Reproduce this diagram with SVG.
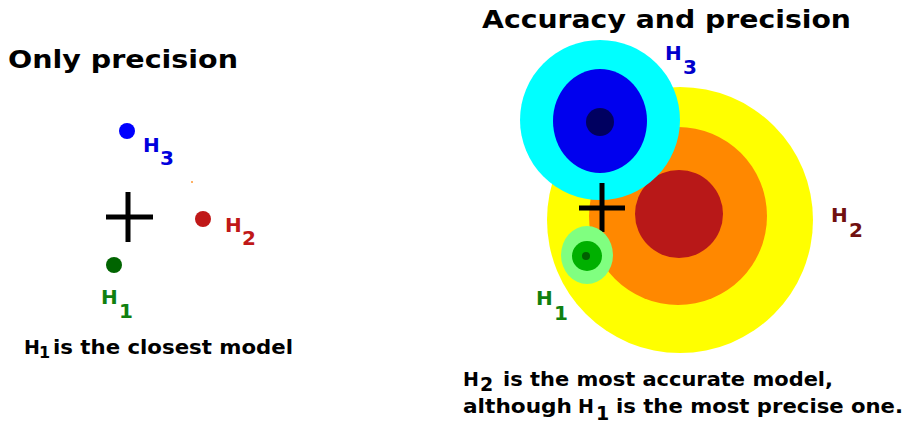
<svg xmlns="http://www.w3.org/2000/svg" width="907" height="423" viewBox="0 0 907 423">
<style>
.t{font-family:"DejaVu Sans","Liberation Sans",sans-serif;font-weight:bold;font-size:25px;fill:#000}
.l{font-family:"DejaVu Sans","Liberation Sans",sans-serif;font-weight:bold;font-size:20px}
.c{font-family:"DejaVu Sans","Liberation Sans",sans-serif;font-weight:bold;font-size:19px;fill:#000}
.s{font-family:"DejaVu Sans","Liberation Sans",sans-serif;font-weight:bold;font-size:16px;fill:#000}
.x{stroke:#000;stroke-width:5;fill:none}
</style>
<rect width="907" height="423" fill="#fff"/>
<g id="left-panel">
<text class="t" x="8" y="68" textLength="230" lengthAdjust="spacingAndGlyphs">Only precision</text>
<g id="left-target"><path class="x" d="M106 217H153M128 192V242"/></g>
<g id="left-h3"><circle cx="127" cy="131" r="8" fill="#0000ff"/><text class="l" fill="#0000dd" x="143" y="152">H<tspan x="160" y="165">3</tspan></text></g>
<g id="left-h2"><circle cx="203" cy="219" r="8" fill="#c01818"/><text class="l" fill="#c01818" x="225" y="232">H<tspan x="242" y="245">2</tspan></text></g>
<g id="left-h1"><circle cx="114" cy="265" r="8" fill="#006400"/><text class="l" fill="#108010" x="101" y="304">H<tspan x="119" y="318">1</tspan></text></g>
<circle cx="192" cy="182" r="1" fill="#ff9933"/>
<g id="left-caption">
<text class="c" x="24" y="354">H</text>
<text class="s" x="39" y="358">1</text>
<text class="c" x="53" y="354" textLength="240" lengthAdjust="spacingAndGlyphs">is the closest model</text>
</g>
</g>
<g id="right-panel">
<text class="t" x="482" y="28" textLength="369" lengthAdjust="spacingAndGlyphs">Accuracy and precision</text>
<g id="r-h2">
<circle cx="680" cy="220" r="133" fill="#ffff00"/>
<circle cx="678" cy="216" r="89" fill="#ff8800"/>
<circle cx="679" cy="214" r="44" fill="#b81818"/>
<text class="l" fill="#701010" x="831" y="222">H<tspan x="849" y="237">2</tspan></text>
</g>
<g id="r-h3">
<circle cx="600" cy="120" r="80" fill="#00ffff"/>
<ellipse cx="600" cy="121" rx="47" ry="52" fill="#0000ee"/>
<circle cx="600" cy="122" r="14" fill="#000060"/>
<text class="l" fill="#0000cc" x="665" y="60">H<tspan x="683" y="74">3</tspan></text>
</g>
<g id="r-target"><path class="x" d="M579 208H625M602 183V232"/></g>
<g id="r-h1">
<ellipse cx="587" cy="255" rx="26" ry="29" fill="#80ff80"/>
<ellipse cx="587" cy="256" rx="15" ry="15" fill="#00b000"/>
<circle cx="586" cy="256" r="4" fill="#006000"/>
<text class="l" fill="#108010" x="536" y="305">H<tspan x="554" y="320">1</tspan></text>
</g>
<g id="right-caption">
<text class="c" x="463" y="386">H</text>
<text class="c" x="480" y="391" font-size="17">2</text>
<text class="c" x="503" y="386" textLength="330" lengthAdjust="spacingAndGlyphs">is the most accurate model,</text>
<text class="c" x="463" y="413" textLength="109" lengthAdjust="spacingAndGlyphs">although</text>
<text class="c" x="578" y="413">H</text>
<text class="c" x="596" y="420" font-size="17">1</text>
<text class="c" x="616" y="413" textLength="287" lengthAdjust="spacingAndGlyphs">is the most precise one.</text>
</g>
</g>
</svg>
